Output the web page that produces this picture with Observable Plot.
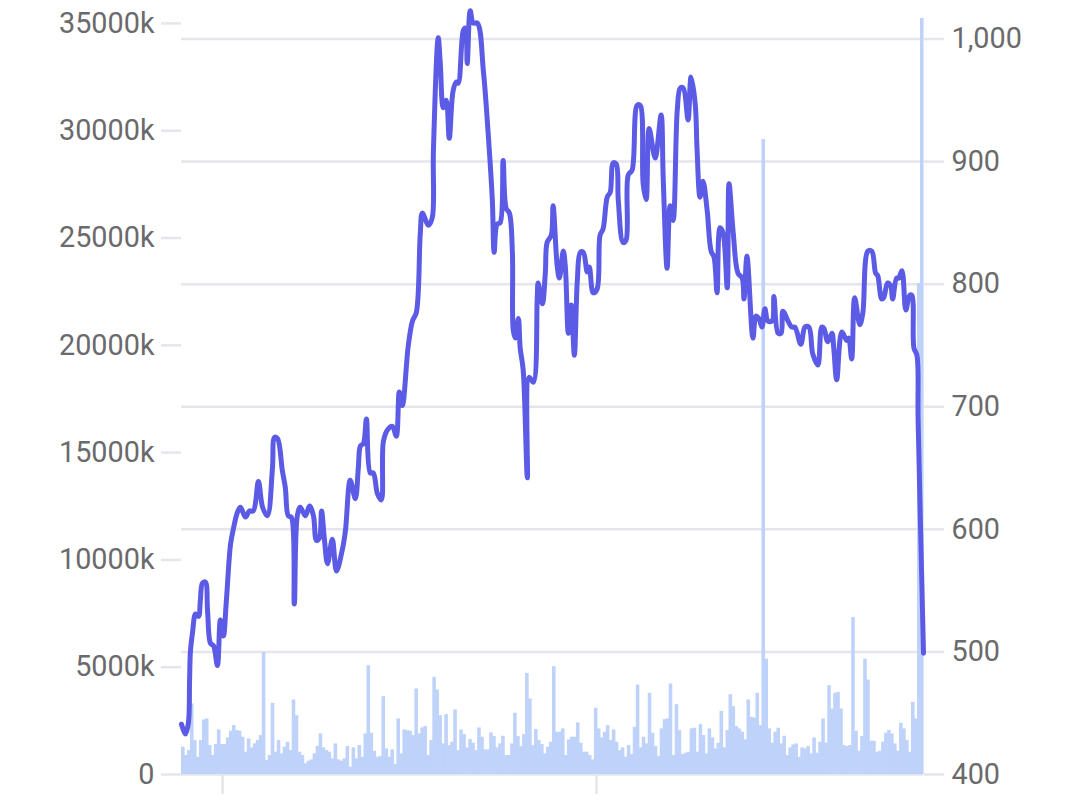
<!DOCTYPE html>
<html>
<head>
<meta charset="utf-8">
<script src="https://cdn.jsdelivr.net/npm/d3@7"></script>
<script src="https://cdn.jsdelivr.net/npm/@observablehq/plot@0.6"></script>
<style>html,body{margin:0;padding:0;background:#fff}svg{display:block}</style>
</head>
<body>
<div id="chart"></div>
<script>
// Traded volume per day, in thousands
const volume = [
1271,884,1116,3286,1581,806,1581,2542,2589,1349,884,1395,2077,1395,1395,1705,2015,2279,2046,2015,
1736,1039,1659,1240,1426,1581,1814,5689,651,884,3317,1039,1581,961,1271,1504,1116,3472,2744,1039,
884,496,620,682,961,1302,1891,1240,1116,1039,729,1426,682,620,729,1302,341,1240,729,1349,
806,1891,5069,1922,1085,806,837,3627,1194,806,1147,465,2589,961,2077,2046,2015,1814,3984,1891,
2170,2232,884,1581,
4526,3937,2744,1426,2790,1349,1504,3007,1116,2077,
1860,1240,1628,1457,1116,2170,1736,1147,1147,1938,
1767,1240,1426,1783,884,884,1426,2852,1767,1302,
1860,4712,3519,1349,2093,1581,1395,961,1271,1504,
5022,1969,1969,2124,884,1612,1736,1736,2403,1457,
1039,1039,884,682,3085,2124,1705,1969,2279,1581,
2077,1504,1116,1240,806,1349,930,2201,4170,1240,
1736,1426,3782,1922,1302,837,2124,2558,2589,4216,
884,3255,2046,
930,992,1039,2124,2155,1039,2325,1814,961,2124,
1705,1194,1457,2945,1240,2046,3720,3162,2232,2124,
1969,1612,3472,2666,2635,3782,2279,29590,5380,2124,1457,1969,2155,1426,
1783,884,1240,1380,1426,806,1240,1194,1302,961,
1705,992,1504,2589,1457,4139,3054,3782,3829,3054,
1349,1302,1349,7316,2015,1085,1767,5379,4402,1550,
1550,1039,1085,1504,1922,2046,1891,1426,1085,2387,
2124,1581,1039,3364,2589,22880,35230
];

// Closing price readings: day position and price
const priceDay = [0,1.3,2.3,2.7,3,3.7,4.7,5.7,6.3,7,8,8.7,9.7,10.7,12,13,14,15,16.4,17.4,18.7,19.7,21.4,22.7,24,25.7,27.1,28.7,30.4,31.1,32.1,33.7,34.7,35.7,36.7,37.7,38.7,39.7,41.4,42.8,44.1,45.1,46.1,46.8,47.8,48.8,50.4,51.8,53.8,54.8,56.4,58.1,59.1,59.8,60.8,61.8,63.1,64.1,65.5,66.8,67.5,69.1,70.5,71.8,72.8,73.8,75.8,77.2,78.5,79.8,80.5,82.5,83.8,84.2,85.8,86.5,87.5,88.5,89.5,90.8,91.9,92.5,94.2,94.9,95.5,96.5,97.5,98.9,100.9,102.5,103.9,104.5,105.5,106.5,107.5,108.5,109.6,110.6,110.9,111.6,112.6,113.2,114.2,115.6,116.2,117.6,118.9,119.2,120.6,121.6,122.2,123.6,124.2,125.6,126.3,127.6,128.3,129.3,130.3,131.3,132.3,133.3,134.3,135.6,136.3,137.6,138.9,139.9,140.9,142.3,143.3,144.3,145.3,146,147.6,148.6,149.3,150.6,152.3,153.3,154.3,155.3,156.3,158.3,160.3,161,162.3,163.3,164.3,165.7,166.7,167.7,169.3,170.3,171.7,172.3,173.3,174.3,175.7,177,178,179,180,181,182.4,183,184.4,186,187.4,188,189,191,192,193,194,195,196,197.4,198,199.4,200.4,201,202.7,204,205,207,208.4,209.7,211,212.7,214,214.7,216,217.4,218,219,220.7,222.4,223,224,225,226.7,227.7,229.4,230.7,232,232.7,234,234.7,236,237,237.7,239,239.7,240.8,242.1,243.4,244.1,244.8,245.8,246.2,248];
const priceValue = [441,433,442,477,501,516,531,529,542,556,557,534,507,505,489,526,513,542,588,601,614,618,610,615,615,639,618,611,650,675,674,648,634,611,610,539,611,618,611,619,611,591,593,615,591,572,592,566,584,599,640,625,650,668,670,690,646,646,629,624,672,682,684,676,712,701,750,770,777,841,858,848,854,909,1001,980,944,950,919,958,965,964,1007,1009,980,1023,1013,1013,974,923,868,826,849,850,901,862,858,825,762,756,772,748,730,642,724,720,789,801,784,809,834,840,864,814,805,827,814,760,783,742,803,826,826,810,814,793,796,840,845,871,875,899,898,868,834,836,889,893,946,946,882,869,927,903,938,887,813,864,852,942,960,960,934,969,947,911,871,884,860,827,822,793,846,842,797,882,842,809,805,788,823,756,774,772,765,780,770,770,790,760,760,778,770,765,765,751,765,765,743,734,765,764,753,760,748,722,761,754,756,739,789,767,776,827,827,809,807,788,789,801,799,788,805,805,811,779,791,791,748,742,689,499];

const priceTicks = [400,500,600,700,800,900,1000];
const volumeTicks = [0,5000,10000,15000,20000,25000,30000,35000];
const dateTickDays = [13.7,138.7];

// Volume is drawn on the price scale: 5000k spans 87.53 price units above the 400 floor
const priceFloor = 400;
const volToPrice = v => priceFloor + v * 87.53 / 5000;
const priceToVol = new Map(volumeTicks.map(v => [volToPrice(v), v]));

const bars = volume.map((v, i) => ({i, v}));
const line = priceDay.map((d, i) => ({d, p: priceValue[i]}));

const GRID = "#e4e6ec";
const TEXT = "#6a6a6c";

const chart = Plot.plot({
  width: 1080,
  height: 806,
  marginLeft: 181,
  marginRight: 157,
  marginTop: 1.75,
  marginBottom: 32,
  style: {fontFamily: "Roboto, sans-serif", background: "#fff"},
  x: {domain: [0, volume.length]},
  y: {domain: [400, 1030]},
  marks: [
    Plot.ruleY(priceTicks, {stroke: GRID, strokeWidth: 2.5}),
    Plot.axisX({ticks: dateTickDays, tickSize: 20, stroke: GRID, strokeWidth: 2.5, tickFormat: () => "", label: null}),
    Plot.axisY({
      anchor: "left", ticks: volumeTicks.map(volToPrice), tickSize: 20, tickPadding: 7,
      stroke: GRID, strokeWidth: 2.5, fill: TEXT, fontSize: 28.8, label: null,
      tickFormat: p => { const v = priceToVol.get(p); return v === 0 ? "0" : v + "k"; }
    }),
    Plot.axisY({
      anchor: "right", ticks: priceTicks, tickSize: 20, tickPadding: 8,
      stroke: GRID, strokeWidth: 2.5, fill: TEXT, fontSize: 28.8, label: null,
      tickFormat: d3.format(",")
    }),
    Plot.rectY(bars, {x1: "i", x2: d => d.i + 1, y1: priceFloor, y2: d => volToPrice(d.v), fill: "#bfd3fa", insetRight: -0.6}),
    Plot.line(line, {x: "d", y: "p", stroke: "#5b5be6", strokeWidth: 5, curve: "catmull-rom", strokeLinecap: "round", strokeLinejoin: "round"})
  ]
});
document.getElementById("chart").appendChild(chart);
</script>
</body>
</html>
